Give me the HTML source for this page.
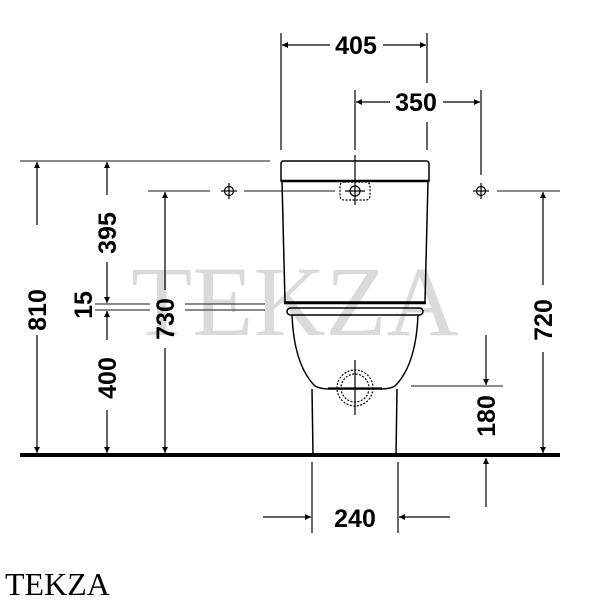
<!DOCTYPE html>
<html><head><style>
body{margin:0;background:#fff;width:600px;height:600px;overflow:hidden}
svg{display:block}
.d{font-family:"Liberation Sans",sans-serif;font-weight:bold;font-size:25px;fill:#000}
</style></head><body>
<svg width="600" height="600" viewBox="0 0 600 600" xmlns="http://www.w3.org/2000/svg">
<defs>
<marker id="a" viewBox="0 0 10 10" refX="10" refY="5" markerWidth="10" markerHeight="6" markerUnits="userSpaceOnUse" orient="auto"><path d="M0,0L10,5L0,10Z" fill="#000"/></marker>
</defs>
<text x="295" y="335" text-anchor="middle" font-family="'Liberation Serif',serif" font-size="100" fill="#dadada">TEKZA</text>
<g stroke="#000" stroke-width="1.2" fill="none">
<line x1="20" y1="161" x2="270" y2="161" stroke="#444"/>
<line x1="148" y1="191" x2="210" y2="191" stroke="#444"/>
<line x1="244" y1="191" x2="335" y2="191" stroke="#444"/>
<line x1="497" y1="191" x2="560" y2="191" stroke="#444"/>
<line x1="95" y1="304" x2="150" y2="304" stroke="#444"/><line x1="95" y1="310" x2="150" y2="310" stroke="#444"/>
<line x1="185" y1="304" x2="265" y2="304" stroke="#444"/><line x1="185" y1="310" x2="265" y2="310" stroke="#444"/>
<line x1="281" y1="33" x2="281" y2="150"/><line x1="427" y1="33" x2="427" y2="83"/><line x1="427" y1="122" x2="427" y2="150"/>
<line x1="355" y1="90" x2="355" y2="150"/><line x1="481" y1="90" x2="481" y2="175"/>
<line x1="411" y1="386" x2="503" y2="386" stroke="#444"/>
<line x1="312" y1="462" x2="312" y2="533"/><line x1="398" y1="462" x2="398" y2="533"/>
<line x1="37" y1="225" x2="37" y2="162" marker-end="url(#a)"/><line x1="37" y1="335" x2="37" y2="453" marker-end="url(#a)"/>
<line x1="107" y1="195" x2="107" y2="162" marker-end="url(#a)"/><line x1="107" y1="262" x2="107" y2="303" marker-end="url(#a)"/>
<line x1="107" y1="340" x2="107" y2="311" marker-end="url(#a)"/><line x1="107" y1="410" x2="107" y2="453" marker-end="url(#a)"/>
<line x1="165" y1="290" x2="165" y2="192" marker-end="url(#a)"/><line x1="165" y1="348" x2="165" y2="453" marker-end="url(#a)"/>
<line x1="330" y1="45" x2="282" y2="45" marker-end="url(#a)"/><line x1="383" y1="45" x2="426" y2="45" marker-end="url(#a)"/>
<line x1="390" y1="102" x2="356" y2="102" marker-end="url(#a)"/><line x1="443" y1="102" x2="480" y2="102" marker-end="url(#a)"/>
<line x1="543" y1="285" x2="543" y2="192" marker-end="url(#a)"/><line x1="543" y1="352" x2="543" y2="453" marker-end="url(#a)"/>
<line x1="486" y1="335" x2="486" y2="385" marker-end="url(#a)"/><line x1="486" y1="507" x2="486" y2="458" marker-end="url(#a)"/>
<line x1="263" y1="517" x2="311" y2="517" marker-end="url(#a)"/><line x1="450" y1="517" x2="399" y2="517" marker-end="url(#a)"/>
<circle cx="229" cy="191" r="4.5"/><line x1="221" y1="191" x2="237" y2="191"/><line x1="229" y1="183" x2="229" y2="199"/>
<circle cx="481" cy="191" r="4.5"/><line x1="473" y1="191" x2="489" y2="191"/><line x1="481" y1="183" x2="481" y2="199"/>
<path d="M283,161 L426,161 Q429,161 429,164 L429,181 L281,181 L281,164 Q281,161 283,161Z" stroke-width="1.5"/>
<line x1="281" y1="181" x2="429" y2="181" stroke-width="2.5"/>
<path d="M282,181 L285,302 L425,302 L428,181" stroke-width="1.5"/>
<line x1="284" y1="303" x2="426" y2="303" stroke-width="2.5"/>
<rect x="287" y="308" width="136" height="7" rx="3.5" stroke-width="1.5"/>
<path d="M292,315 Q294,365 315,386 Q320,389 330,389 L380,389 Q390,389 395,386 Q416,365 418,315" stroke-width="1.5"/>
<path d="M312,389 L313,455 M397,389 L396,455" stroke-width="1.5"/>
<rect x="340" y="182" width="30" height="18" rx="4" stroke-dasharray="2,1.5"/>
<circle cx="355" cy="191" r="5"/><line x1="345" y1="191" x2="365" y2="191"/><line x1="355" y1="155" x2="355" y2="205"/>
<circle cx="355" cy="388" r="18" stroke-dasharray="2,1.5"/><circle cx="355" cy="388" r="14" stroke-dasharray="2,1.5"/>
<line x1="328" y1="388" x2="382" y2="388"/><line x1="355" y1="360" x2="355" y2="415"/>
</g>
<line x1="20" y1="455" x2="560" y2="455" stroke="#000" stroke-width="4"/>
<text class="d" x="356" y="54" text-anchor="middle">405</text>
<text class="d" x="416" y="111" text-anchor="middle">350</text>
<text class="d" x="355" y="527" text-anchor="middle">240</text>
<text class="d" transform="translate(46,310) rotate(-90)" text-anchor="middle">810</text>
<text class="d" transform="translate(116,233) rotate(-90)" text-anchor="middle">395</text>
<text class="d" transform="translate(92,305) rotate(-90)" text-anchor="middle">15</text>
<text class="d" transform="translate(116,378) rotate(-90)" text-anchor="middle">400</text>
<text class="d" transform="translate(174,319) rotate(-90)" text-anchor="middle">730</text>
<text class="d" transform="translate(552,320) rotate(-90)" text-anchor="middle">720</text>
<text class="d" transform="translate(495,416) rotate(-90)" text-anchor="middle">180</text>
<text x="5" y="595" font-family="'Liberation Serif',serif" font-size="32" fill="#000">TEKZA</text>
</svg>
</body></html>
